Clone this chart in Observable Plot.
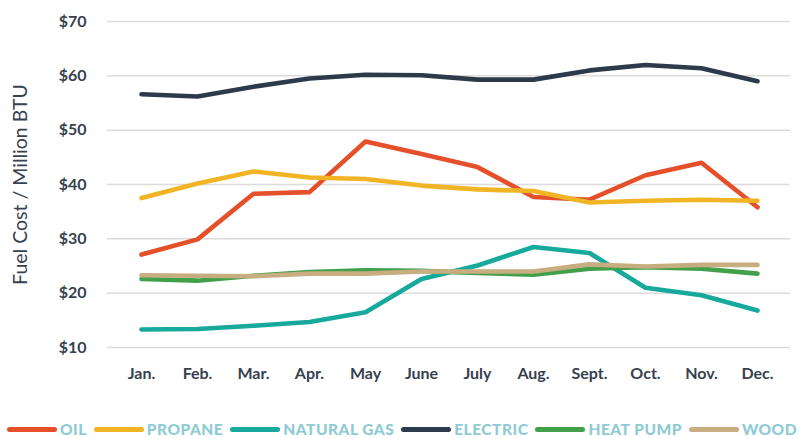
<!DOCTYPE html>
<html>
<head>
<meta charset="utf-8">
<script src="https://cdn.jsdelivr.net/npm/d3@7"></script>
<script src="https://cdn.jsdelivr.net/npm/@observablehq/plot@0.6"></script>
<style>
  html, body { margin: 0; padding: 0; background: #fff; }
  #wrap { position: relative; width: 810px; height: 439px; }
  #legend { position: absolute; left: 7px; top: 420px; height: 18px; display: flex; align-items: center;
    font-family: Lato, sans-serif; font-weight: 900; font-size: 15.5px; line-height: 18px; color: #8ecbd3; letter-spacing: 0.5px; white-space: nowrap; }
  .item { display: flex; align-items: center; margin-right: 7px; }
  .sw { width: 50px; height: 5px; border-radius: 3px; margin-right: 3px; margin-top: 1px; }
</style>
</head>
<body>
<div id="wrap"><div id="chart"></div><div id="legend"></div></div>
<script>
const months = ["Jan.", "Feb.", "Mar.", "Apr.", "May", "June", "July", "Aug.", "Sept.", "Oct.", "Nov.", "Dec."];
const fuels = ["OIL", "PROPANE", "NATURAL GAS", "ELECTRIC", "HEAT PUMP", "WOOD"];
const colors = ["#e5502b", "#f1b424", "#17aa9c", "#2c3a4b", "#43a04a", "#c8ad80"];
const oil = [27.1, 29.9, 38.3, 38.6, 47.9, 45.6, 43.2, 37.7, 37.2, 41.7, 44.0, 35.8];
const propane = [37.5, 40.2, 42.4, 41.3, 41.0, 39.8, 39.1, 38.8, 36.7, 37.0, 37.2, 37.0];
const naturalGas = [13.3, 13.4, 14.0, 14.7, 16.5, 22.6, 25.1, 28.5, 27.4, 21.0, 19.6, 16.8];
const electric = [56.6, 56.2, 58.0, 59.5, 60.2, 60.1, 59.3, 59.3, 61.0, 62.0, 61.4, 59.0];
const heatPump = [22.6, 22.3, 23.2, 23.9, 24.2, 24.1, 23.7, 23.4, 24.5, 24.8, 24.5, 23.6];
const wood = [23.3, 23.2, 23.1, 23.6, 23.6, 24.0, 24.0, 24.0, 25.3, 24.9, 25.2, 25.2];
const yTicks = [10, 20, 30, 40, 50, 60, 70];

const series = [oil, propane, naturalGas, electric, heatPump, wood];
const rows = [];
fuels.forEach((f, i) => series[i].forEach((v, j) => rows.push({fuel: f, month: months[j], value: v})));

const chart = Plot.plot({
  width: 810,
  height: 410,
  marginLeft: 107,
  marginRight: 20,
  marginTop: 21,
  marginBottom: 63,
  style: {fontFamily: "Lato, sans-serif", fontSize: "15px", color: "#37414f", background: "#fff"},
  x: {type: "point", domain: months, padding: 0.5},
  y: {domain: [10, 70]},
  color: {domain: fuels, range: colors},
  marks: [
    Plot.gridY(yTicks, {stroke: "#dcdcdc", strokeOpacity: 1, strokeWidth: 1.5}),
    Plot.axisY(yTicks, {tickSize: 0, tickPadding: 21, tickFormat: d => "$" + d, fontWeight: "bold", fontSize: 16,
      label: "Fuel Cost / Million BTU", labelAnchor: "center", labelArrow: "none", labelOffset: 94}),
    Plot.axisX({tickSize: 0, tickPadding: 20, fontWeight: "bold", fontSize: 16, label: null}),
    Plot.line(rows, {x: "month", y: "value", z: "fuel", stroke: "fuel", strokeWidth: 4.6,
      strokeLinejoin: "round", strokeLinecap: "round"})
  ]
});
chart.querySelectorAll("g[aria-label='y-axis label'] text").forEach(t => { t.style.fontSize = "19.5px"; t.style.fontWeight = "normal"; });
document.getElementById("chart").appendChild(chart);

const legend = document.getElementById("legend");
fuels.forEach((f, i) => {
  const it = document.createElement("div");
  it.className = "item";
  const sw = document.createElement("div");
  sw.className = "sw";
  sw.style.background = colors[i];
  const tx = document.createElement("span");
  tx.textContent = f;
  it.appendChild(sw); it.appendChild(tx);
  legend.appendChild(it);
});
</script>
</body>
</html>
